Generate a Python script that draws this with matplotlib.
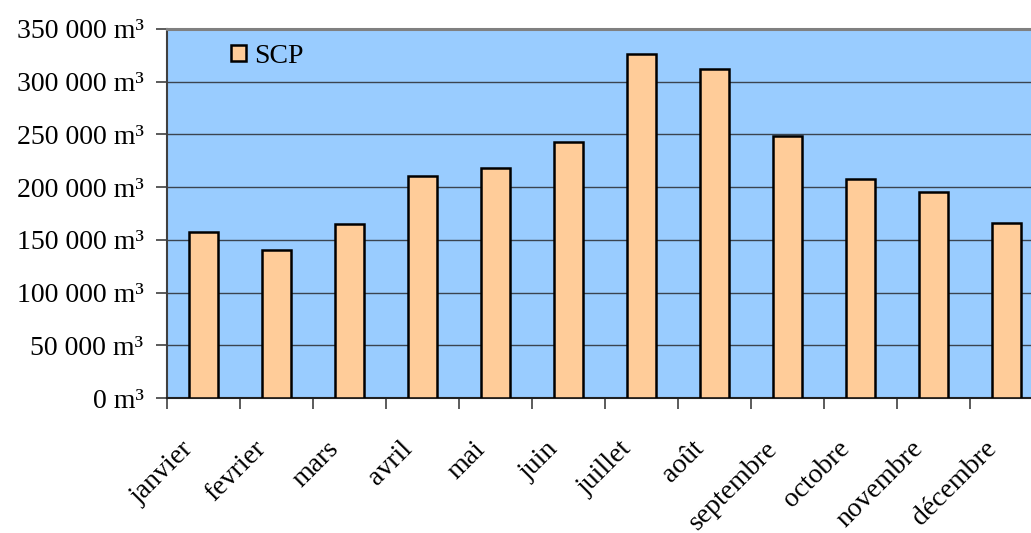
import matplotlib
matplotlib.use("Agg")
import matplotlib.pyplot as plt
from matplotlib.ticker import FuncFormatter, MultipleLocator
from matplotlib.transforms import ScaledTranslation
import numpy as np

months = ["janvier", "fevrier", "mars", "avril", "mai", "juin", "juillet",
          "août", "septembre", "octobre", "novembre", "décembre"]
scp = [157000, 140000, 165000, 210500, 218000, 243000, 326000,
       312000, 248500, 208000, 195500, 166000]
series_name = "SCP"

plt.rcParams["font.family"] = ["Liberation Serif", "DejaVu Serif"]

fig = plt.figure(figsize=(10.31, 5.33), dpi=100)
ax = fig.add_axes([167 / 1031, 135 / 533, 876 / 1031, 369 / 533])
ax.set_facecolor("#99CCFF")

x = np.arange(len(months))
ax.bar(x, scp, width=0.41, color="#FFCC99", edgecolor="black",
       linewidth=1.8, label=series_name, zorder=3)

ax.set_xlim(-0.5, len(months) - 0.5)
ax.set_ylim(0, 350000)
ax.yaxis.set_major_locator(MultipleLocator(50000))
ax.yaxis.set_major_formatter(
    FuncFormatter(lambda v, _: (f"{int(v):,}".replace(",", " ") + " m³")))
ax.grid(axis="y", color="#3a4450", linewidth=1.0, zorder=1)

# Category ticks sit on the boundaries between months
ax.set_xticks(x - 0.5, minor=False)
ax.set_xticklabels([])
ax.set_xticks(x, minor=True)
ax.set_xticklabels(months, minor=True, rotation=45, ha="right",
                   va="center", rotation_mode="anchor", fontsize=20)
ax.tick_params(axis="x", which="minor", length=0, pad=34)
ax.tick_params(axis="x", which="major", length=8, width=1.2,
               color="#404040", direction="out")
ax.tick_params(axis="y", length=8, width=1.2, color="#404040",
               direction="out", labelsize=20, pad=9)

shift = ScaledTranslation(-14 / 100, 0, fig.dpi_scale_trans)
for lbl in ax.get_xticklabels(minor=True):
    lbl.set_transform(lbl.get_transform() + shift)

ax.spines["right"].set_visible(False)
ax.spines["top"].set_color("#808080")
ax.spines["top"].set_linewidth(2.2)
ax.spines["left"].set_color("#404040")
ax.spines["left"].set_linewidth(1.5)
ax.spines["bottom"].set_color("#202020")
ax.spines["bottom"].set_linewidth(1.5)

leg = ax.legend(loc="upper left", bbox_to_anchor=(0.060, 0.99),
                frameon=False, fontsize=20, handlelength=0.55,
                handleheight=0.55, handletextpad=0.3, borderaxespad=0)

fig.savefig("out.png", dpi=100)
